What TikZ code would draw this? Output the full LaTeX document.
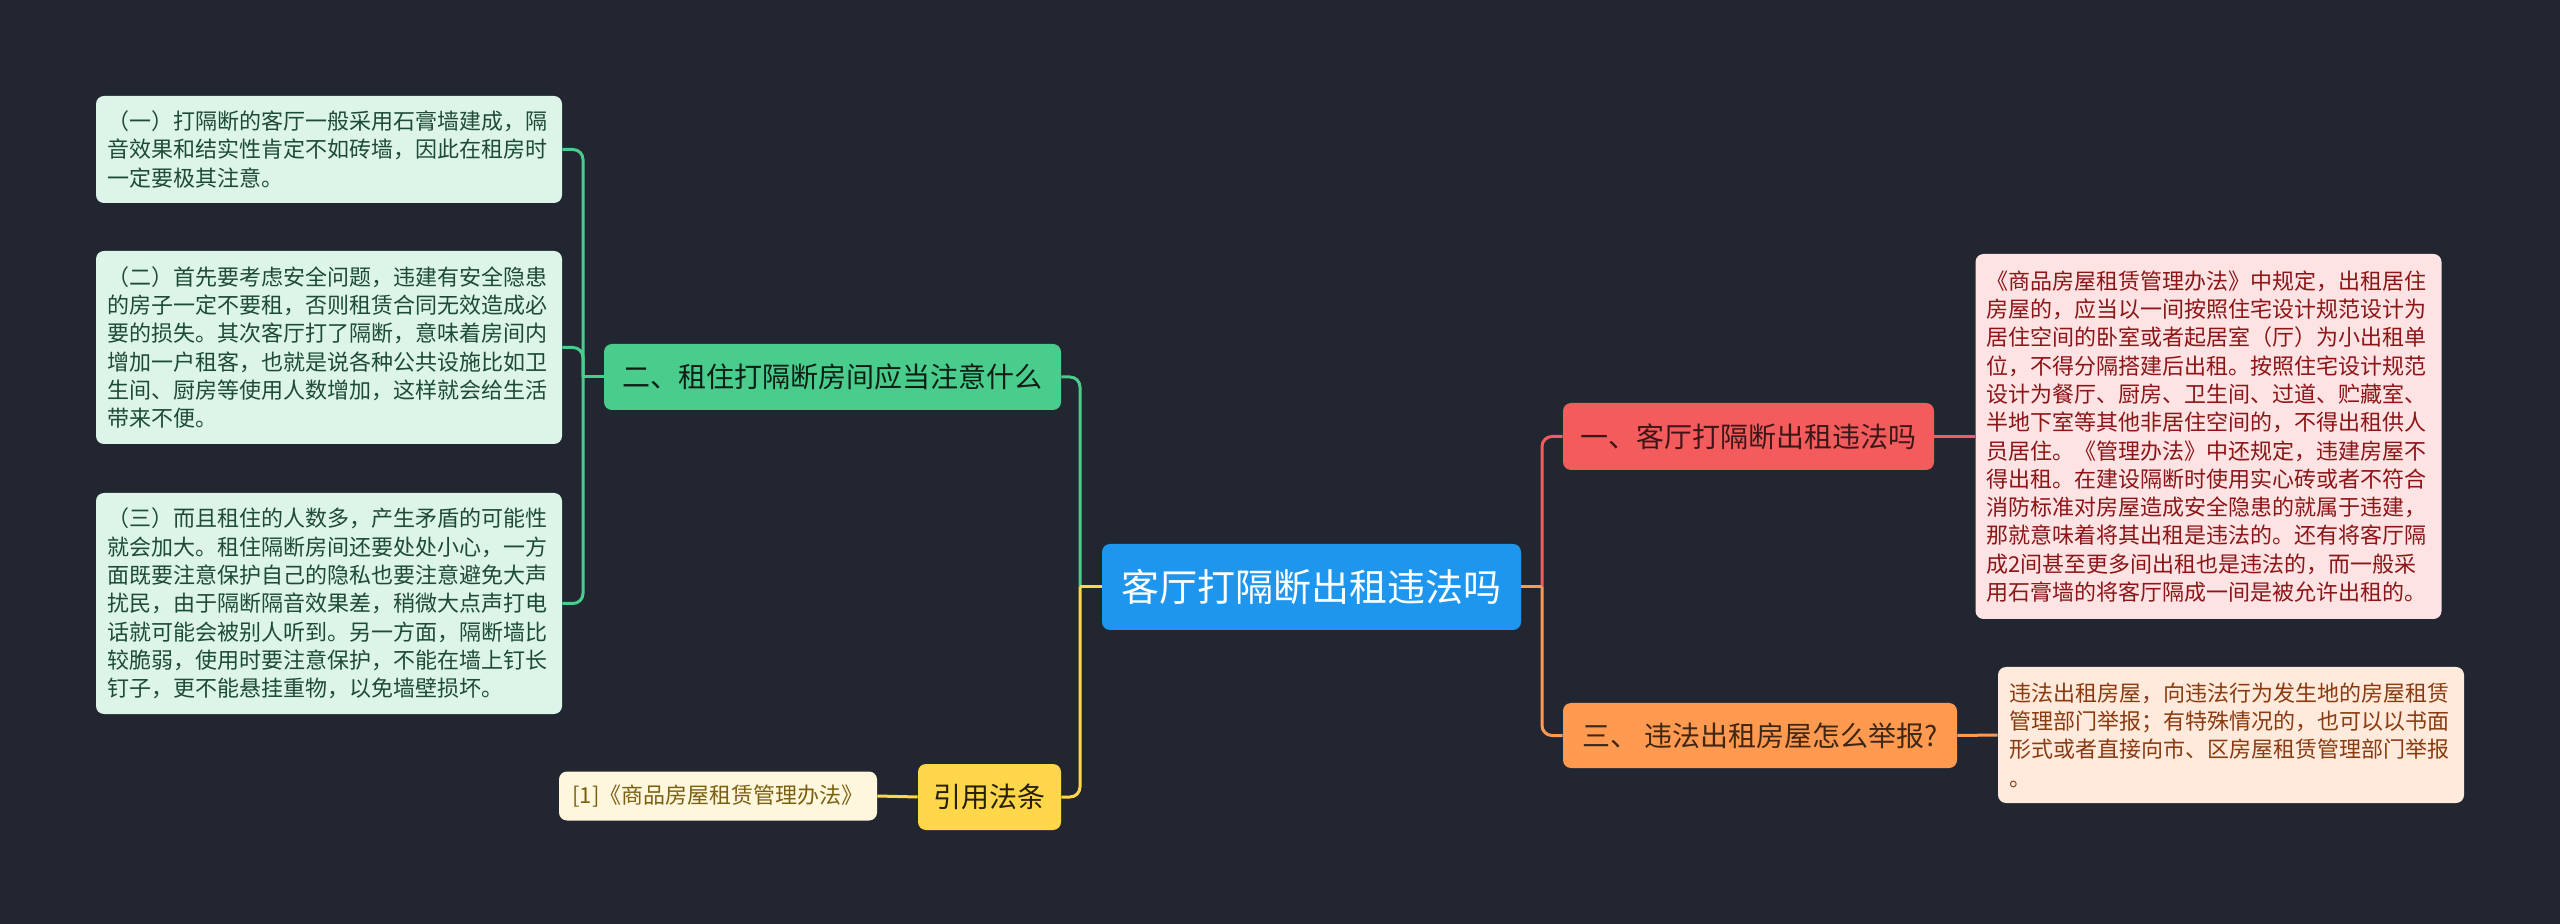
\documentclass[tikz,border=0pt]{standalone}
\usepackage{fontspec}
\setmainfont{Noto Sans CJK SC}
\definecolor{bgc}{HTML}{222631}
\definecolor{rootc}{HTML}{1E96EE}
\definecolor{greenc}{HTML}{4ACD8C}
\definecolor{greenleaf}{HTML}{DCF5E8}
\definecolor{greentext}{HTML}{1E4B35}
\definecolor{yellowc}{HTML}{FFD748}
\definecolor{yellowleaf}{HTML}{FFF7DD}
\definecolor{yellowtext}{HTML}{7A600E}
\definecolor{redc}{HTML}{F35B5D}
\definecolor{redleaf}{HTML}{FDE3E3}
\definecolor{redtext}{HTML}{8C1517}
\definecolor{orangec}{HTML}{FF9A50}
\definecolor{orangeleaf}{HTML}{FFEADC}
\definecolor{orangetext}{HTML}{8A3A10}
\begin{document}
\begin{tikzpicture}[x=0.5pt,y=-0.5pt,
  box/.style={rounded corners=4pt, inner sep=0pt, align=center},
  mainbox/.style={box, font=\fontsize{14pt}{17pt}\selectfont},
  leafbox/.style={box, text width=222pt, inner xsep=5.5pt, inner ysep=0pt, align=left,
     font=\fontsize{11pt}{14.15pt}\selectfont},
  link/.style={line width=1.5pt},
  rlink/.style={link, rounded corners=5pt}
]
\fill[bgc] (0,0) rectangle (2560,924);
\useasboundingbox (0,0) rectangle (2560,924);

% root
\node[box, fill=rootc, text=white, minimum width=209.5pt, minimum height=43pt,
  font=\fontsize{19pt}{22pt}\selectfont] (root) at (1311.5,587) {客厅打隔断出租违法吗};

% main branches
\node[mainbox, fill=greenc, text=black!85!greenc, minimum width=228.5pt, minimum height=33pt]
  (green) at (832.5,377) {二、租住打隔断房间应当注意什么};
\node[mainbox, fill=yellowc, text=black!85!yellowc, minimum width=71.5pt, minimum height=33pt]
  (yellow) at (989.5,797) {引用法条};
\node[mainbox, fill=redc, text=black!75!redc, minimum width=185.5pt, minimum height=33.5pt]
  (red) at (1748.5,436.5) {一、客厅打隔断出租违法吗};
\node[mainbox, fill=orangec, text=black!75!orangec, minimum width=197pt, minimum height=32.5pt]
  (orange) at (1760,735.5) {三、 违法出租房屋怎么举报?};

% left leaves
\node[leafbox, fill=greenleaf, text=greentext, minimum height=53.5pt] (g1) at (329,149.5)
  {（一）打隔断的客厅一般采用石膏墙建成，隔\\音效果和结实性肯定不如砖墙，因此在租房时\\一定要极其注意。};
\node[leafbox, fill=greenleaf, text=greentext, minimum height=96.5pt] (g2) at (329,347.5)
  {（二）首先要考虑安全问题，违建有安全隐患\\的房子一定不要租，否则租赁合同无效造成必\\要的损失。其次客厅打了隔断，意味着房间内\\增加一户租客，也就是说各种公共设施比如卫\\生间、厨房等使用人数增加，这样就会给生活\\带来不便。};
\node[leafbox, fill=greenleaf, text=greentext, minimum height=110.5pt] (g3) at (329,603.5)
  {（三）而且租住的人数多，产生矛盾的可能性\\就会加大。租住隔断房间还要处处小心，一方\\面既要注意保护自己的隐私也要注意避免大声\\扰民，由于隔断隔音效果差，稍微大点声打电\\话就可能会被别人听到。另一方面，隔断墙比\\较脆弱，使用时要注意保护，不能在墙上钉长\\钉子，更不能悬挂重物，以免墙壁损坏。};
\node[box, fill=yellowleaf, text=yellowtext, minimum width=159pt, minimum height=24.5pt,
  font=\fontsize{11pt}{14pt}\selectfont] (ref) at (718,796) {[1]《商品房屋租赁管理办法》};

% right leaves
\node[leafbox, fill=redleaf, text=redtext, minimum height=182.5pt] (r1) at (2208.5,436.5)
  {《商品房屋租赁管理办法》中规定，出租居住\\房屋的，应当以一间按照住宅设计规范设计为\\居住空间的卧室或者起居室（厅）为小出租单\\位，不得分隔搭建后出租。按照住宅设计规范\\设计为餐厅、厨房、卫生间、过道、贮藏室、\\半地下室等其他非居住空间的，不得出租供人\\员居住。《管理办法》中还规定，违建房屋不\\得出租。在建设隔断时使用实心砖或者不符合\\消防标准对房屋造成安全隐患的就属于违建，\\那就意味着将其出租是违法的。还有将客厅隔\\成2间甚至更多间出租也是违法的，而一般采\\用石膏墙的将客厅隔成一间是被允许出租的。};
\node[leafbox, fill=orangeleaf, text=orangetext, minimum height=68pt] (o1) at (2231,735)
  {违法出租房屋，向违法行为发生地的房屋租赁\\管理部门举报；有特殊情况的，也可以以书面\\形式或者直接向市、区房屋租赁管理部门举报\\。};

% junctions
\coordinate (lj) at (1080,587);
\coordinate (rj) at (1542,587);
\coordinate (gj) at (583,377);

% connectors left of root
\draw[link, greenc] (root.west) -- (lj);
\draw[rlink, greenc] (lj) |- (green.east);
\draw[link, yellowc] (root.west) -- (lj);
\draw[rlink, yellowc] (lj) |- (yellow.east);

% connectors right of root
\draw[link, redc] (root.east) -- (rj);
\draw[rlink, redc] (rj) |- (red.west);
\draw[link, orangec] (root.east) -- (rj);
\draw[rlink, orangec] (rj) |- (orange.west);

% green leaves
\draw[link, greenc] (green.west) -- (gj);
\draw[rlink, greenc] (gj) |- (g1.east);
\draw[rlink, greenc] (gj) |- (g2.east);
\draw[rlink, greenc] (gj) |- (g3.east);

% other leaves
\draw[link, yellowc] (yellow.west) -- (ref.east);
\draw[link, redc] (red.east) -- (r1.west);
\draw[link, orangec] (orange.east) -- (o1.west);
\end{tikzpicture}
\end{document}
